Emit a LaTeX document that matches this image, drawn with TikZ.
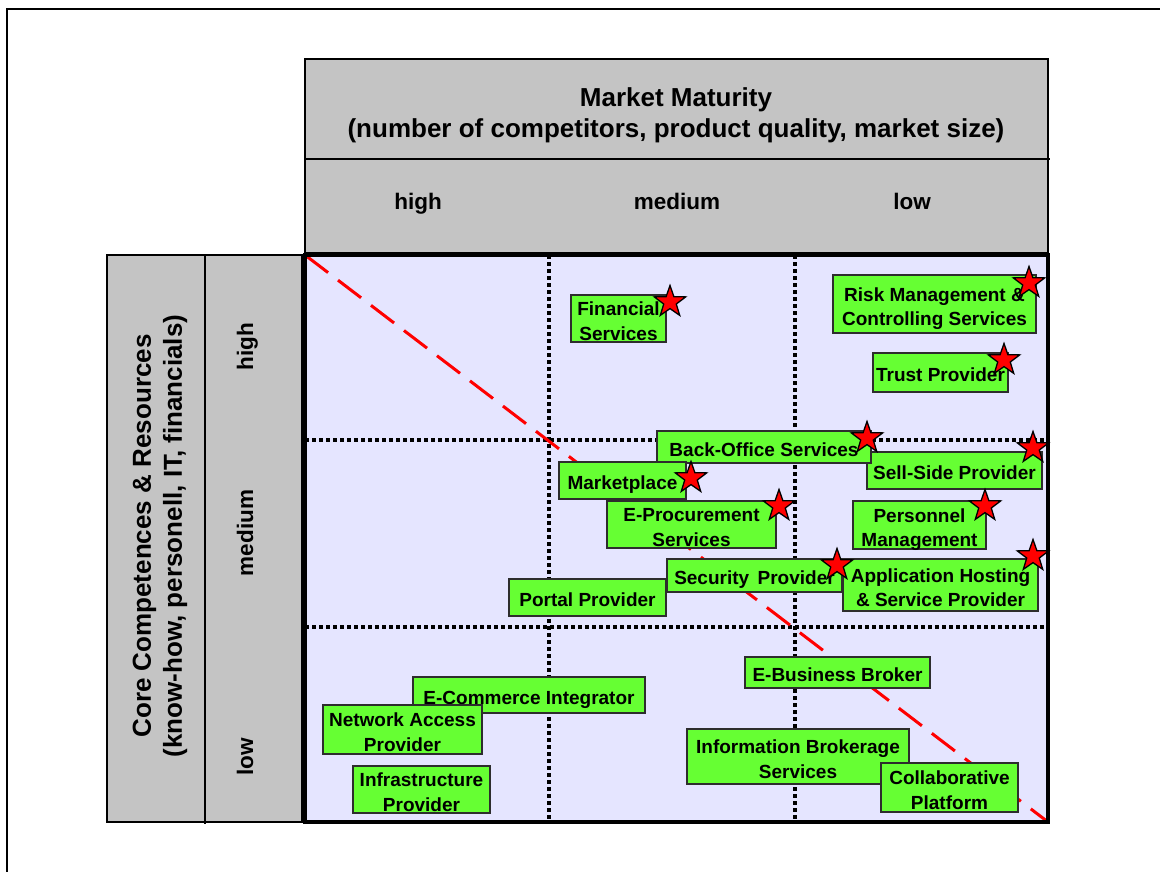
\documentclass[tikz,border=0pt]{standalone}
\usepackage{fontspec}
\setmainfont{Liberation Sans}
\usetikzlibrary{shapes.geometric}
\definecolor{hdrgray}{RGB}{196,196,196}
\definecolor{lav}{RGB}{229,229,255}
\definecolor{boxgreen}{RGB}{102,255,51}
\definecolor{boxedge}{RGB}{45,45,45}
\begin{document}
\begin{tikzpicture}[x=1pt,y=-1pt,
  gbox/.style={draw=boxedge, line width=1.6pt, fill=boxgreen, inner sep=0pt, align=center,
    font=\fontsize{19}{24.5}\selectfont\bfseries, text height=20pt, text depth=2pt},
  gtwo/.style={gbox, text height=45pt, text depth=2pt},
  rstar/.style={star, star points=5, star point ratio=2.5, minimum size=33pt, inner sep=0pt,
    fill=red, draw=black, line width=1.3pt},
  hdr/.style={draw=black, line width=1.6pt, fill=hdrgray},
  ttl/.style={align=center, inner sep=0pt, font=\fontsize{26}{31}\selectfont\bfseries},
  lbl/.style={inner sep=0pt, font=\fontsize{22.5}{27}\selectfont\bfseries, text height=16.3pt, text depth=0pt},
  gridline/.style={line width=3.4pt, dash pattern=on 4pt off 3pt},
  diag/.style={draw=red, line width=3pt, dash pattern=on 29pt off 12.5pt}
]
\useasboundingbox (0,0) rectangle (1160,872);
% outer frame
\coordinate (fTL) at (7,9);
\coordinate (fTR) at (1160,9);
\coordinate (fBL) at (7,872);
\draw[line width=2pt] (fBL) -- (fTL) -- (fTR);

% top header
\draw[hdr] (305,59) rectangle (1048,253);
\coordinate (hdL) at (305,159);
\coordinate (hdR) at (1050,159);
\draw[line width=1.6pt] (hdL) -- (hdR);
\node[ttl] (mm) at (676,115.5) {Market Maturity\\(number of competitors, product quality, market size)};
\node[lbl] (th) at (418,201) {high};
\node[lbl] (tm) at (677,201) {medium};
\node[lbl] (tl) at (912,201) {low};

% left header
\draw[hdr] (107,255) rectangle (302,822);
\coordinate (vdT) at (205,255);
\coordinate (vdB) at (205,824);
\draw[line width=1.6pt] (vdT) -- (vdB);
\node[ttl, rotate=90] (cc) at (160,536) {Core Competences \& Resources\\(know-how, personell, IT, financials)};
\node[lbl, rotate=90] (lh) at (245,347) {high};
\node[lbl, rotate=90] (lm) at (245,533) {medium};
\node[lbl, rotate=90] (ll) at (245,757) {low};

% main grid
\coordinate (gTL) at (305,255);
\coordinate (gBR) at (1048,822);
\fill[lav] (gTL) rectangle (gBR);
\coordinate (v1t) at (549,255); \coordinate (v1b) at (549,822);
\coordinate (v2t) at (795,255); \coordinate (v2b) at (795,822);
\coordinate (h1l) at (305,440); \coordinate (h1r) at (1048,440);
\coordinate (h2l) at (305,627); \coordinate (h2r) at (1048,627);
\draw[gridline] (v1t) -- (v1b);
\draw[gridline] (v2t) -- (v2b);
\draw[gridline] (h1l) -- (h1r);
\draw[gridline] (h2l) -- (h2r);
\draw[diag] (gTL) -- (gBR);
\draw[line width=3.5pt] (gTL) rectangle (gBR);

% boxes
\node[gtwo, minimum width=95pt, minimum height=47pt] (fin) at (618.5,318.5) {Financial\\Services};
\node[gtwo, minimum width=203pt, minimum height=58pt] (risk) at (934.5,304) {Risk Management \&\\Controlling Services};
\node[gbox, minimum width=135pt, minimum height=39pt] (trust) at (940.5,372.5) {Trust Provider};
\node[gbox, minimum width=175pt, minimum height=37pt] (sell) at (954.5,470.5) {Sell-Side Provider};
\node[gbox, minimum width=214pt, minimum height=32pt] (back) at (764,447) {Back-Office Services};
\node[gbox, minimum width=127pt, minimum height=37pt] (mkt) at (622.5,480.5) {Marketplace};
\node[gtwo, minimum width=169pt, minimum height=45pt] (eproc) at (691.5,524.5) {E-Procurement\\Services};
\node[gtwo, minimum width=133pt, minimum height=48pt] (pers) at (919.5,525) {Personnel\\Management};
\node[gbox, minimum width=157pt, minimum height=37pt] (portal) at (587.5,597.5) {Portal Provider};
\node[gbox, minimum width=175pt, minimum height=33pt] (sec) at (754.5,575.5) {Security\, Provider};
\node[gtwo, minimum width=195pt, minimum height=52pt] (app) at (940.5,585) {Application Hosting\\\& Service Provider};
\node[gbox, minimum width=185pt, minimum height=31pt] (ebus) at (837.5,672.5) {E-Business Broker};
\node[gbox, minimum width=232pt, minimum height=36pt] (ecom) at (529,695) {E-Commerce Integrator};
\node[gtwo, minimum width=159pt, minimum height=49pt] (net) at (402.5,729.5) {Network Access\\Provider};
\node[gtwo, minimum width=222pt, minimum height=55pt] (info) at (798,756.5) {Information Brokerage\\Services};
\node[gtwo, minimum width=137pt, minimum height=45pt] (infra) at (421.5,789.5) {Infrastructure\\Provider};
\node[gtwo, minimum width=137pt, minimum height=49pt] (collab) at (949.5,787.5) {Collaborative\\Platform};

% stars
\node[rstar] (s1) at (670,302) {};
\node[rstar] (s2) at (1029,283) {};
\node[rstar] (s3) at (1004,360) {};
\node[rstar] (s4) at (867,438) {};
\node[rstar] (s5) at (1033,448) {};
\node[rstar] (s6) at (691,478) {};
\node[rstar] (s7) at (779,506) {};
\node[rstar] (s8) at (985,506) {};
\node[rstar] (s9) at (837,565) {};
\node[rstar] (s10) at (1033,556) {};
\end{tikzpicture}
\end{document}
